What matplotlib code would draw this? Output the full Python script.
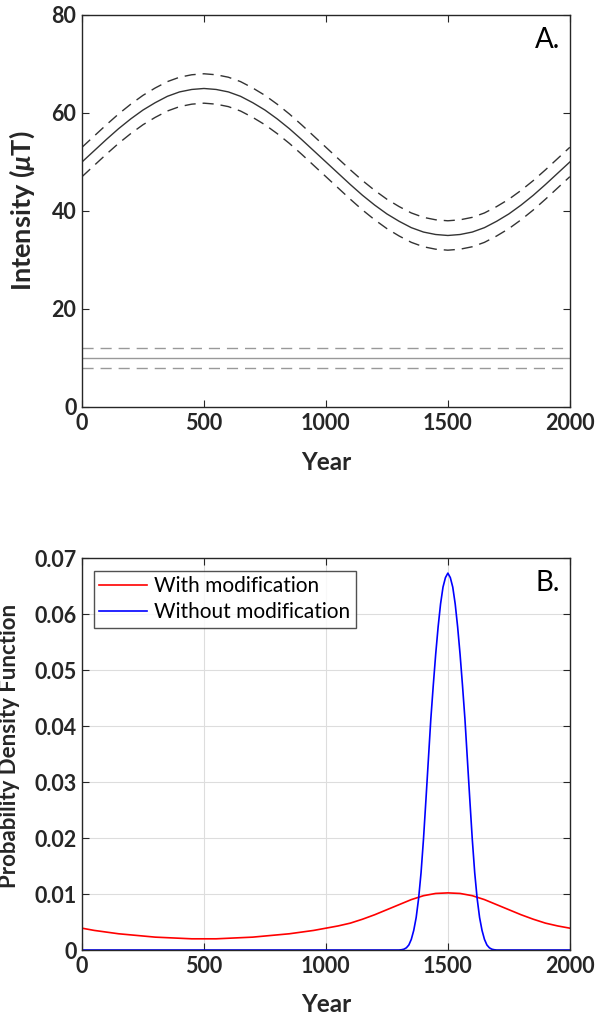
import numpy as np
import matplotlib
matplotlib.use("Agg")
import matplotlib.pyplot as plt

# ---- Panel A: intensity curves (50-year steps) ----
years_a = np.arange(0, 2001, 50)
intensity_mean = [50.0, 52.3, 54.6, 56.8, 58.8, 60.6, 62.1, 63.4, 64.3, 64.8,
                  65.0, 64.8, 64.3, 63.4, 62.1, 60.6, 58.8, 56.8, 54.6, 52.3,
                  50.0, 47.7, 45.4, 43.2, 41.2, 39.4, 37.9, 36.6, 35.7, 35.2,
                  35.0, 35.2, 35.7, 36.6, 37.9, 39.4, 41.2, 43.2, 45.4, 47.7,
                  50.0]
intensity_err = 3.0
measured_intensity = 10.0
measured_err = 2.0

# ---- Panel B: probability density curves ----
years_red = np.arange(0, 2001, 50)
pdf_with = [0.0039, 0.0035, 0.0032, 0.0029, 0.0027, 0.0025, 0.0023, 0.0022,
            0.0021, 0.0020, 0.0020, 0.0020, 0.0021, 0.0022, 0.0023, 0.0025,
            0.0027, 0.0029, 0.0032, 0.0035, 0.0039, 0.0043, 0.0048, 0.0055,
            0.0063, 0.0072, 0.0081, 0.0090, 0.0097, 0.0101, 0.0102, 0.0101,
            0.0097, 0.0090, 0.0081, 0.0072, 0.0063, 0.0055, 0.0048, 0.0043,
            0.0039]

years_blue = np.concatenate([[0, 1250], np.arange(1300, 1701, 10), [1750, 2000]])
pdf_without = [0.0, 0.0,
               0.0, 0.00005, 0.00015, 0.0004, 0.0009, 0.0019, 0.0035, 0.0058,
               0.0092, 0.0138, 0.0198, 0.0268, 0.0340, 0.0412, 0.0472, 0.0528,
               0.0577, 0.0618, 0.0648, 0.0665, 0.0673, 0.0665, 0.0648, 0.0618,
               0.0577, 0.0528, 0.0472, 0.0412, 0.0340, 0.0268, 0.0198, 0.0138,
               0.0092, 0.0058, 0.0035, 0.0019, 0.0009, 0.0004, 0.00015, 0.00005,
               0.0,
               0.0, 0.0]

TXT = "#262626"
WEIGHT = 'bold'
plt.rcParams['font.family'] = ['Lato', 'DejaVu Sans']
plt.rcParams['mathtext.fontset'] = 'custom'
plt.rcParams['mathtext.it'] = 'Lato:italic:bold'
plt.rcParams['mathtext.rm'] = 'Lato:bold'

fig = plt.figure(figsize=(6.03, 10.19), dpi=100)
ax_a = fig.add_axes([0.136, 0.6006, 0.809, 0.3847])
ax_b = fig.add_axes([0.136, 0.0677, 0.809, 0.3847])


def style_axes(ax):
    for sp in ax.spines.values():
        sp.set_color(TXT)
        sp.set_linewidth(1.0)
    ax.tick_params(direction='in', top=True, right=True, length=5, width=0.8,
                   colors=TXT, labelsize=15.5, pad=4)
    for lbl in ax.get_xticklabels() + ax.get_yticklabels():
        lbl.set_fontweight(WEIGHT)


# Panel A
mean = np.array(intensity_mean)
ax_a.plot(years_a, mean, color='#333333', lw=1.0)
ax_a.plot(years_a, mean + intensity_err, color='#333333', lw=1.0, dashes=(8, 5))
ax_a.plot(years_a, mean - intensity_err, color='#333333', lw=1.0, dashes=(8, 5))
ax_a.plot([0, 2000], [measured_intensity] * 2, color='#999999', lw=1.0)
ax_a.plot([0, 2000], [measured_intensity + measured_err] * 2, color='#999999', lw=1.0, dashes=(8, 5))
ax_a.plot([0, 2000], [measured_intensity - measured_err] * 2, color='#999999', lw=1.0, dashes=(8, 5))
ax_a.set_xlim(0, 2000)
ax_a.set_ylim(0, 80)
ax_a.set_xticks([0, 500, 1000, 1500, 2000])
ax_a.set_yticks([0, 20, 40, 60, 80])
style_axes(ax_a)
ax_a.set_xlabel('Year', fontsize=17.5, color=TXT, fontweight=WEIGHT)
ax_a.set_ylabel(r'Intensity ($\mu$T)', fontsize=19.5, color=TXT, fontweight=WEIGHT)
ax_a.xaxis.set_label_coords(0.5, -0.113)
ax_a.yaxis.set_label_coords(-0.093, 0.5)
ax_a.text(0.98, 0.97, 'A.', transform=ax_a.transAxes, ha='right', va='top',
          fontsize=20, color='black')

# Panel B
ax_b.grid(True, color='#dddddd', lw=0.8)
ax_b.set_axisbelow(True)
ax_b.plot(years_red, pdf_with, color='#ff0000', lw=1.2, label='With modification')
ax_b.plot(years_blue, pdf_without, color='#0000ff', lw=1.2, label='Without modification')
ax_b.set_xlim(0, 2000)
ax_b.set_ylim(0, 0.07)
ax_b.set_xticks([0, 500, 1000, 1500, 2000])
ax_b.set_yticks(np.arange(0, 0.071, 0.01))
ax_b.set_yticklabels(['0', '0.01', '0.02', '0.03', '0.04', '0.05', '0.06', '0.07'])
style_axes(ax_b)
ax_b.set_xlabel('Year', fontsize=17.5, color=TXT, fontweight=WEIGHT)
ax_b.set_ylabel('Probability Density Function', fontsize=16, color=TXT, fontweight=WEIGHT)
ax_b.xaxis.set_label_coords(0.5, -0.11)
ax_b.yaxis.set_label_coords(-0.127, 0.52)
leg = ax_b.legend(loc='upper left', bbox_to_anchor=(0.0246, 0.967), fontsize=15,
                  frameon=True, fancybox=False, handlelength=2.3, borderpad=0.25,
                  labelspacing=0.3, handletextpad=0.35, borderaxespad=0.0)
leg.get_frame().set_edgecolor(TXT)
leg.get_frame().set_linewidth(1.0)
for t in leg.get_texts():
    t.set_color('black')
ax_b.text(0.98, 0.97, 'B.', transform=ax_b.transAxes, ha='right', va='top',
          fontsize=20, color='black')

fig.savefig('out.png', dpi=100)
